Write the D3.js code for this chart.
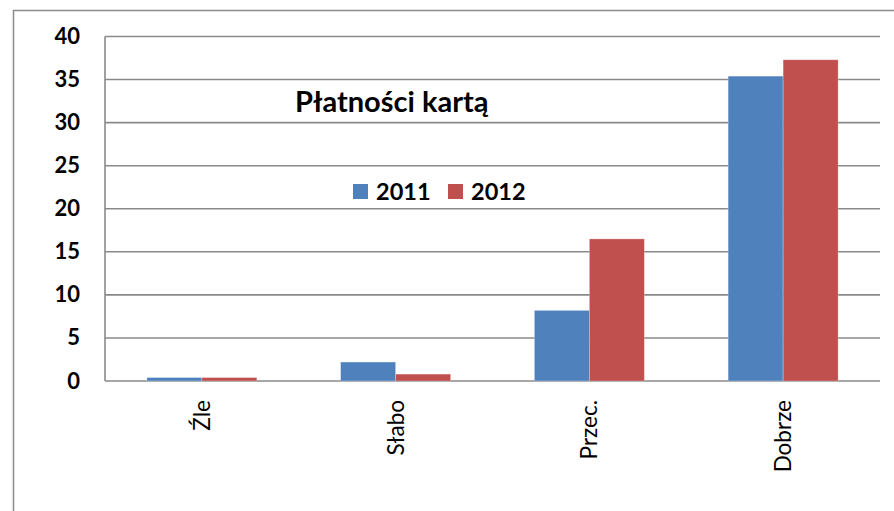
<!DOCTYPE html>
<html>
<head>
<meta charset="utf-8">
<script src="https://cdn.jsdelivr.net/npm/d3@7"></script>
<style>
  html, body { margin: 0; padding: 0; background: #fff; }
  svg { display: block; }
  text { font-family: Lato, "Noto Sans", sans-serif; fill: #000; }
</style>
</head>
<body>
<svg id="chart" width="894" height="511"></svg>
<script>
// Card payments survey: rating categories and yearly shares
const categories = ["Źle", "Słabo", "Przec.", "Dobrze"];
const seriesNames = ["2011", "2012"];
const values2011 = [0.4, 2.2, 8.2, 35.4];
const values2012 = [0.4, 0.8, 16.5, 37.3];
const yTicks = [0, 5, 10, 15, 20, 25, 30, 35, 40];
const colors = ["#4F81BD", "#C0504D"];
const titleText = "Płatności kartą";

const svg = d3.select("#chart");

// outer chart frame
svg.append("rect")
  .attr("x", 13.5).attr("y", 10.5)
  .attr("width", 920).attr("height", 540)
  .attr("fill", "none")
  .attr("stroke", "#8c8c8c")
  .attr("stroke-width", 1.5);

const plot = { left: 105, right: 880, top: 36.5, bottom: 381 };

const y = d3.scaleLinear().domain([0, 40]).range([plot.bottom, plot.top]);
const x = d3.scaleBand().domain(categories).range([plot.left, plot.right]).padding(0);
const groupWidth = 110;
const xs = d3.scaleBand().domain(seriesNames)
  .range([-groupWidth / 2, groupWidth / 2]).padding(0);

// horizontal gridlines
svg.append("g")
  .selectAll("line")
  .data(yTicks)
  .join("line")
  .attr("x1", plot.left).attr("x2", plot.right)
  .attr("y1", d => y(d)).attr("y2", d => y(d))
  .attr("stroke", "#8a8a8a")
  .attr("stroke-width", 1.6);

// value axis line
svg.append("line")
  .attr("x1", plot.left).attr("x2", plot.left)
  .attr("y1", plot.top).attr("y2", plot.bottom)
  .attr("stroke", "#8a8a8a")
  .attr("stroke-width", 1.6);

// value axis labels
const yAxis = d3.axisLeft(y).tickValues(yTicks).tickSize(0).tickPadding(25);
const yg = svg.append("g")
  .attr("transform", `translate(${plot.left},0)`)
  .call(yAxis);
yg.select(".domain").remove();
yg.selectAll("text")
  .attr("font-family", "Lato, sans-serif")
  .attr("font-weight", "bold")
  .attr("font-size", 22)
  .attr("fill", "#000");

// bars
const data = categories.map((c, i) => ({
  cat: c,
  vals: [
    { s: seriesNames[0], v: values2011[i], col: colors[0] },
    { s: seriesNames[1], v: values2012[i], col: colors[1] }
  ]
}));

const groups = svg.append("g")
  .selectAll("g")
  .data(data)
  .join("g")
  .attr("transform", d => `translate(${x(d.cat) + x.bandwidth() / 2},0)`);

groups.selectAll("rect")
  .data(d => d.vals)
  .join("rect")
  .attr("x", d => xs(d.s))
  .attr("width", xs.bandwidth())
  .attr("y", d => y(d.v))
  .attr("height", d => y(0) - y(d.v))
  .attr("fill", d => d.col)
  .attr("stroke", "rgba(255,255,255,0.35)")
  .attr("stroke-width", 0.8);

// category labels, rotated
const xAxis = d3.axisBottom(x).tickSize(0).tickPadding(0);
const xg = svg.append("g")
  .attr("transform", `translate(0,${plot.bottom})`)
  .call(xAxis);
xg.select(".domain").remove();
xg.selectAll("text")
  .attr("font-family", "Lato, sans-serif")
  .attr("font-size", 22.5)
  .attr("fill", "#000")
  .attr("text-anchor", "end")
  .attr("transform", "rotate(-90)")
  .attr("x", -19)
  .attr("y", 0)
  .attr("dy", "0.35em");

// title
svg.append("text")
  .attr("x", 295).attr("y", 112)
  .attr("font-size", 29)
  .attr("font-weight", "bold")
  .text(titleText);

// legend
const legendPos = [353, 448];
const legend = svg.append("g")
  .selectAll("g")
  .data(seriesNames)
  .join("g")
  .attr("transform", (d, i) => `translate(${legendPos[i]},184)`);
legend.append("rect")
  .attr("width", 15).attr("height", 15)
  .attr("fill", (d, i) => colors[i]);
legend.append("text")
  .attr("x", 23).attr("y", 15.5)
  .attr("font-size", 23.5)
  .attr("font-weight", "bold")
  .text(d => d);
</script>
</body>
</html>
